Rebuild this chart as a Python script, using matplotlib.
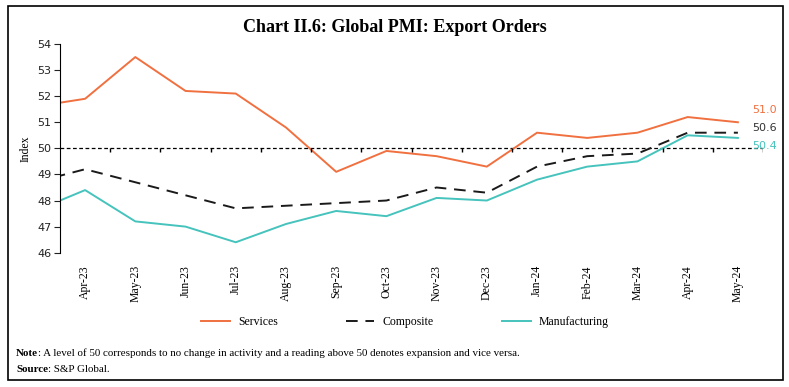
import matplotlib.pyplot as plt
from matplotlib.patches import Rectangle

# categories (first point is Mar-23, drawn half cut off at the axis edge)
months = ["Mar-23", "Apr-23", "May-23", "Jun-23", "Jul-23", "Aug-23", "Sep-23", "Oct-23",
          "Nov-23", "Dec-23", "Jan-24", "Feb-24", "Mar-24", "Apr-24", "May-24"]
services = [51.6, 51.9, 53.5, 52.2, 52.1, 50.8, 49.1, 49.9, 49.7, 49.3, 50.6, 50.4, 50.6, 51.2, 51.0]
composite = [48.7, 49.2, 48.7, 48.2, 47.7, 47.8, 47.9, 48.0, 48.5, 48.3, 49.3, 49.7, 49.8, 50.6, 50.6]
manufacturing = [47.6, 48.4, 47.2, 47.0, 46.4, 47.1, 47.6, 47.4, 48.1, 48.0, 48.8, 49.3, 49.5, 50.5, 50.4]

c_serv = "#f07040"
c_comp = "#1a1a1a"
c_manu = "#45c3bc"
serif = "Liberation Serif"

fig = plt.figure(figsize=(7.89, 3.87), dpi=100)
ax = fig.add_axes([60 / 789, 1 - 252.7 / 387, 703 / 789, 208.7 / 387])

x = list(range(-1, len(months) - 1))
ax.plot(x, services, color=c_serv, lw=1.4, label="Services")
ax.plot(x, composite, color=c_comp, lw=1.4, ls=(0, (6, 4)), label="Composite")
ax.plot(x, manufacturing, color=c_manu, lw=1.4, label="Manufacturing")

ax.set_xlim(-0.5, len(months) - 1.5)
ax.set_ylim(46, 54)
ax.set_yticks(range(46, 55))
ax.tick_params(axis="y", labelsize=8, length=4, colors="#222222", pad=2)
for lab in ax.get_yticklabels():
    lab.set_family("DejaVu Sans")

ax.set_xticks(x[1:])
ax.set_xticklabels(months[1:], rotation=90, family=serif, fontsize=8.5)
ax.tick_params(axis="x", length=0, pad=9)

for s in ["top", "right", "bottom"]:
    ax.spines[s].set_visible(False)
ax.spines["left"].set_color("black")

# 50 line works as the category axis, with ticks between months
ax.axhline(50, color="black", lw=0.9, ls=(0, (3, 2)), zorder=1)
ax.vlines([i + 0.5 for i in x[1:]], 49.85, 50, color="black", lw=1)

ax.set_ylabel("Index", family=serif, fontsize=8.5, labelpad=4)

# end labels
last = len(months) - 2
ax.text(last + 0.28, services[-1] + 0.47, f"{services[-1]:.1f}", color=c_serv, fontsize=8,
        va="center")
ax.text(last + 0.28, composite[-1] + 0.18, f"{composite[-1]:.1f}", color="#333333", fontsize=8,
        va="center")
ax.text(last + 0.28, manufacturing[-1] - 0.31, f"{manufacturing[-1]:.1f}", color=c_manu,
        fontsize=8, va="center")

ax.legend(loc="center", bbox_to_anchor=(405 / 789, 1 - 322 / 387), bbox_transform=fig.transFigure,
          ncol=3, frameon=False, prop={"family": serif, "size": 8.5}, handlelength=2.4,
          columnspacing=5.8, handletextpad=0.7)

fig.text(0.5, 1 - 27 / 387, "Chart II.6: Global PMI: Export Orders", ha="center", va="center",
         family=serif, fontsize=13, fontweight="bold")

# note and source, with bold lead words
renderer = fig.canvas.get_renderer()
for y, head, rest in [(353, "Note", ": A level of 50 corresponds to no change in activity and a "
                       "reading above 50 denotes expansion and vice versa."),
                      (369, "Source", ": S&P Global.")]:
    t = fig.text(16 / 789, 1 - y / 387, head, family=serif, fontsize=7.9, fontweight="bold",
                 va="center")
    w = t.get_window_extent(renderer).width
    fig.text((16 + w) / 789, 1 - y / 387, rest, family=serif, fontsize=7.9, va="center")

fig.patches.append(Rectangle((8 / 789, 1 - 380 / 387), 775 / 789, 374 / 387,
                             transform=fig.transFigure, fill=False, lw=1.2, ec="black"))

fig.savefig("out.png", dpi=100)
